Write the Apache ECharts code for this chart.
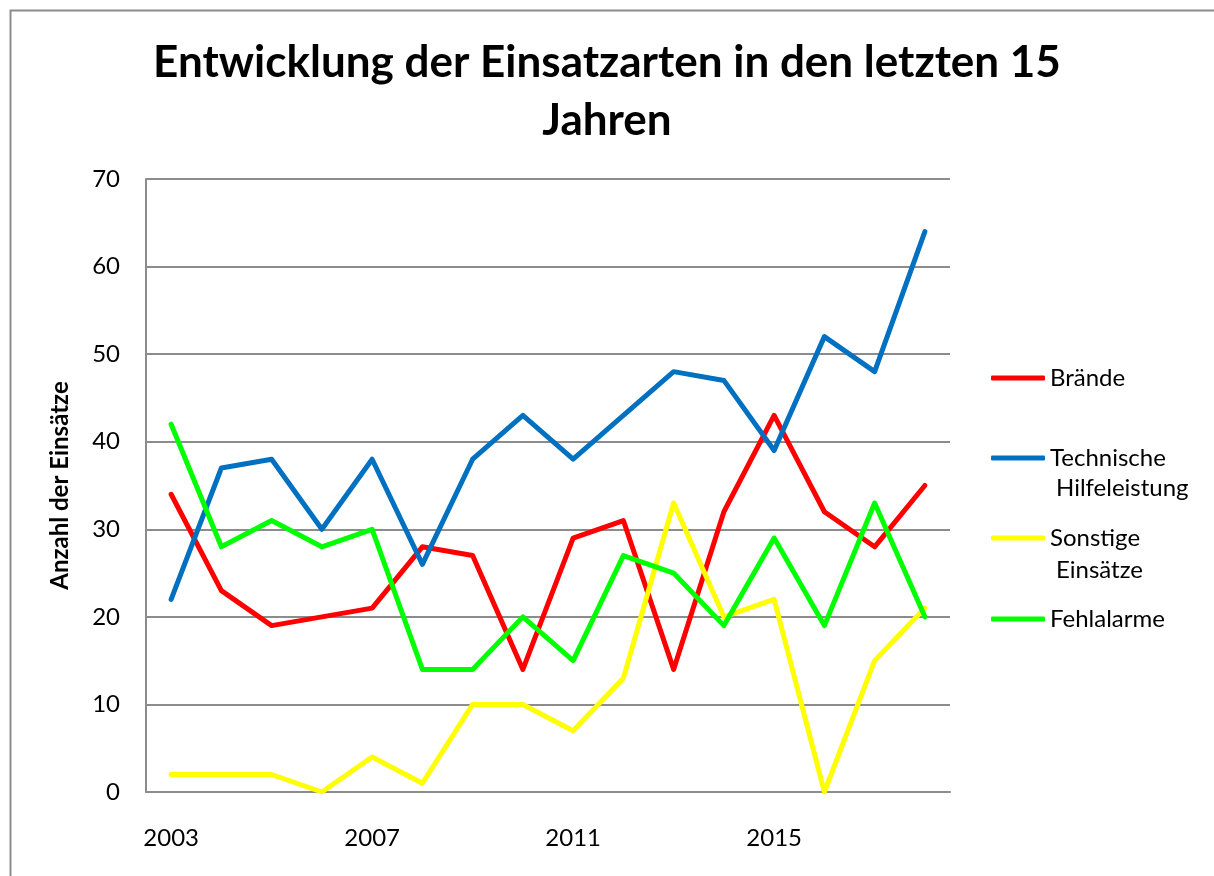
<!DOCTYPE html>
<html>
<head>
<meta charset="utf-8">
<script src="https://cdn.jsdelivr.net/npm/echarts@6/dist/echarts.min.js"></script>
<style>
  html, body { margin: 0; padding: 0; background: #fff; }
  #main { width: 1214px; height: 876px; }
</style>
</head>
<body>
<div id="main"></div>
<script>
// Jahre und Einsatzzahlen
var years = ['2003','2004','2005','2006','2007','2008','2009','2010','2011','2012','2013','2014','2015','2016','2017','2018'];
var braende = [34, 23, 19, 20, 21, 28, 27, 14, 29, 31, 14, 32, 43, 32, 28, 35];
var technische = [22, 37, 38, 30, 38, 26, 38, 43, 38, 43, 48, 47, 39, 52, 48, 64];
var sonstige = [2, 2, 2, 0, 4, 1, 10, 10, 7, 13, 33, 20, 22, 0, 15, 21];
var fehlalarme = [42, 28, 31, 28, 30, 14, 14, 20, 15, 27, 25, 19, 29, 19, 33, 20];

var fontFam = 'Lato, "Noto Sans", sans-serif';
var chart = echarts.init(document.getElementById('main'));

function serie(name, data, color) {
  return {
    name: name,
    type: 'line',
    data: data,
    symbol: 'none',
    color: color,
    lineStyle: { width: 5, color: color, cap: 'round', join: 'round' }
  };
}

function legende(name, top) {
  return {
    data: [name],
    left: 986,
    top: top,
    orient: 'vertical',
    icon: 'roundRect',
    itemWidth: 54,
    itemHeight: 5,
    selectedMode: false,
    textStyle: { fontFamily: fontFam, fontSize: 24, color: '#000', lineHeight: 28 }
  };
}

var option = {
  backgroundColor: '#fff',
  animation: false,
  title: {
    text: 'Entwicklung der Einsatzarten in den letzten 15\nJahren',
    left: 'center',
    top: 29,
    textStyle: { fontFamily: fontFam, fontSize: 44, fontWeight: 'bold', color: '#000', lineHeight: 58 }
  },
  legend: [
    legende('Brände', 359),
    legende('Technische', 439),
    legende('Sonstige', 519),
    legende('Fehlalarme', 600)
  ],
  graphic: [
    { type: 'rect', left: 8, top: 8, shape: { width: 1220, height: 880 },
      style: { fill: 'none', stroke: '#8c8c8c', lineWidth: 2 }, silent: true },
    { type: 'text', left: 1056, top: 476,
      style: { text: 'Hilfeleistung', font: '24px ' + fontFam, fill: '#000' } },
    { type: 'text', left: 1056, top: 558,
      style: { text: 'Einsätze', font: '24px ' + fontFam, fill: '#000' } }
  ],
  grid: { left: 146, right: 264, top: 179, bottom: 84 },
  xAxis: {
    type: 'category',
    data: years,
    boundaryGap: true,
    axisLine: { lineStyle: { color: '#8c8c8c', width: 2 } },
    axisTick: { show: false },
    axisLabel: { interval: 3, margin: 34, fontFamily: fontFam, fontSize: 24, color: '#000' }
  },
  yAxis: {
    type: 'value',
    min: 0,
    max: 70,
    interval: 10,
    name: 'Anzahl der Einsätze',
    nameLocation: 'middle',
    nameGap: 74,
    nameTextStyle: { fontFamily: fontFam, fontSize: 24, fontWeight: 'bold', color: '#000' },
    axisLine: { show: true, lineStyle: { color: '#8c8c8c', width: 2 } },
    axisTick: { show: false },
    axisLabel: { margin: 26, fontFamily: fontFam, fontSize: 24, color: '#000' },
    splitLine: { lineStyle: { color: '#8c8c8c', width: 2 } }
  },
  series: [
    serie('Brände', braende, '#ff0000'),
    serie('Technische', technische, '#0070c0'),
    serie('Sonstige', sonstige, '#ffff00'),
    serie('Fehlalarme', fehlalarme, '#00ff00')
  ]
};

chart.setOption(option);
</script>
</body>
</html>
